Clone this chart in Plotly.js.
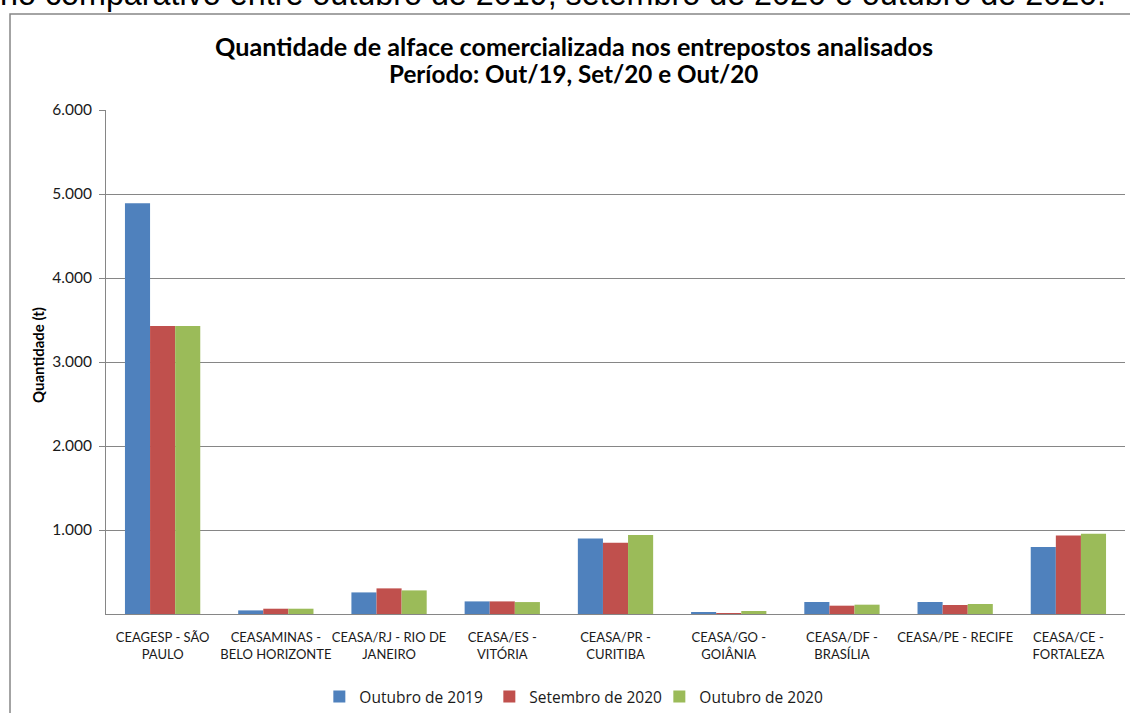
<!DOCTYPE html>
<html>
<head>
<meta charset="utf-8">
<script src="https://cdn.plot.ly/plotly-3.0.1.min.js"></script>
<style>html,body{margin:0;padding:0;background:#fff;}#chart{width:1130px;height:713px;}</style>
</head>
<body>
<div id="chart"></div>
<script>
const categories = [
  "CEAGESP - SÃO<br>PAULO",
  "CEASAMINAS -<br>BELO HORIZONTE",
  "CEASA/RJ - RIO DE<br>JANEIRO",
  "CEASA/ES -<br>VITÓRIA",
  "CEASA/PR -<br>CURITIBA",
  "CEASA/GO -<br>GOIÂNIA",
  "CEASA/DF -<br>BRASÍLIA",
  "CEASA/PE - RECIFE",
  "CEASA/CE -<br>FORTALEZA"
];
const seriesNames = ["Outubro de 2019", "Setembro de 2020", "Outubro de 2020"];
const out2019 = [4890, 43, 257, 150, 900, 24, 143, 143, 798];
const set2020 = [3430, 63, 305, 150, 849, 12, 99, 107, 936];
const out2020 = [3430, 63, 281, 142, 940, 36, 111, 119, 956];
const yTickVals = [1000, 2000, 3000, 4000, 5000, 6000];
const yTickText = ["1.000", "2.000", "3.000", "4.000", "5.000", "6.000"];
const colors = ["#4F81BD", "#C0504D", "#9BBB59"];

const FONT = "Lato, 'Open Sans', sans-serif";
const values = [out2019, set2020, out2020];
const traces = values.map((v, i) => ({
  type: "bar",
  name: seriesNames[i],
  x: categories,
  y: v,
  marker: { color: colors[i], line: { width: 0 } },
  hoverinfo: "none"
}));

const layout = {
  width: 1130,
  height: 713,
  margin: { l: 106, r: 5, t: 110, b: 99, autoexpand: false },
  paper_bgcolor: "#fff",
  plot_bgcolor: "#fff",
  separators: ",.",
  barmode: "group",
  bargap: 0.335,
  bargroupgap: 0,
  font: { family: FONT, color: "#000" },
  showlegend: true,
  xaxis: {
    type: "category",
    showgrid: false,
    showline: true,
    linecolor: "#868686",
    linewidth: 1,
    ticks: "",
    tickangle: 0,
    tickfont: { family: FONT, size: 13, color: "#1a1a1a" },
    ticklabelstandoff: 11,
    automargin: false,
    fixedrange: true
  },
  yaxis: {
    range: [0, 6000],
    tickvals: yTickVals,
    ticktext: yTickText,
    showgrid: true,
    gridcolor: "#868686",
    gridwidth: 1,
    showline: true,
    linecolor: "#868686",
    linewidth: 1,
    zeroline: false,
    ticks: "outside",
    ticklen: 6,
    tickcolor: "#868686",
    tickfont: { family: FONT, size: 15.5, color: "#1a1a1a" },
    ticklabelstandoff: 4,
    automargin: false,
    fixedrange: true
  },
  legend: {
    orientation: "h",
    xref: "container", yref: "container",
    x: 0.2826, xanchor: "left",
    y: 0.0225, yanchor: "middle",
    font: { family: "'Open Sans', sans-serif", size: 15.5, color: "#1a1a1a" },
    itemwidth: 30,
    entrywidth: 125,
    entrywidthmode: "pixels",
    traceorder: "normal",
    bgcolor: "rgba(0,0,0,0)"
  },
  shapes: [{
    type: "rect", xref: "paper", yref: "paper",
    x0: -0.0942, x1: 1.02, y0: -0.25, y1: 1.1905,
    line: { color: "#868686", width: 1.5 },
    fillcolor: "rgba(0,0,0,0)"
  }],
  annotations: [
    {
      text: "no comparativo entre outubro de 2019, setembro de 2020 e outubro de 2020.",
      xref: "paper", yref: "paper",
      x: -0.106, xanchor: "left",
      y: 1.1905, yanchor: "bottom",
      showarrow: false,
      font: { family: "'Liberation Sans', Arial, sans-serif", size: 32.3, color: "#000" }
    },
    {
      text: "<b>Quantidade de alface comercializada nos entrepostos analisados</b>",
      xref: "paper", yref: "paper",
      x: 0.459, xanchor: "center",
      y: 1.127, yanchor: "middle",
      showarrow: false,
      font: { family: FONT, size: 25.2, color: "#000" }
    },
    {
      text: "<b>Período: Out/19, Set/20 e Out/20</b>",
      xref: "paper", yref: "paper",
      x: 0.459, xanchor: "center",
      y: 1.073, yanchor: "middle",
      showarrow: false,
      font: { family: FONT, size: 24.2, color: "#000" }
    },
    {
      text: "<b>Quantidade (t)</b>",
      xref: "paper", yref: "paper",
      x: -0.0667, xanchor: "center",
      y: 0.514, yanchor: "middle",
      textangle: -90,
      showarrow: false,
      font: { family: FONT, size: 15, color: "#000" }
    }
  ]
};

Plotly.newPlot("chart", traces, layout, { displayModeBar: false, staticPlot: true });
</script>
</body>
</html>
